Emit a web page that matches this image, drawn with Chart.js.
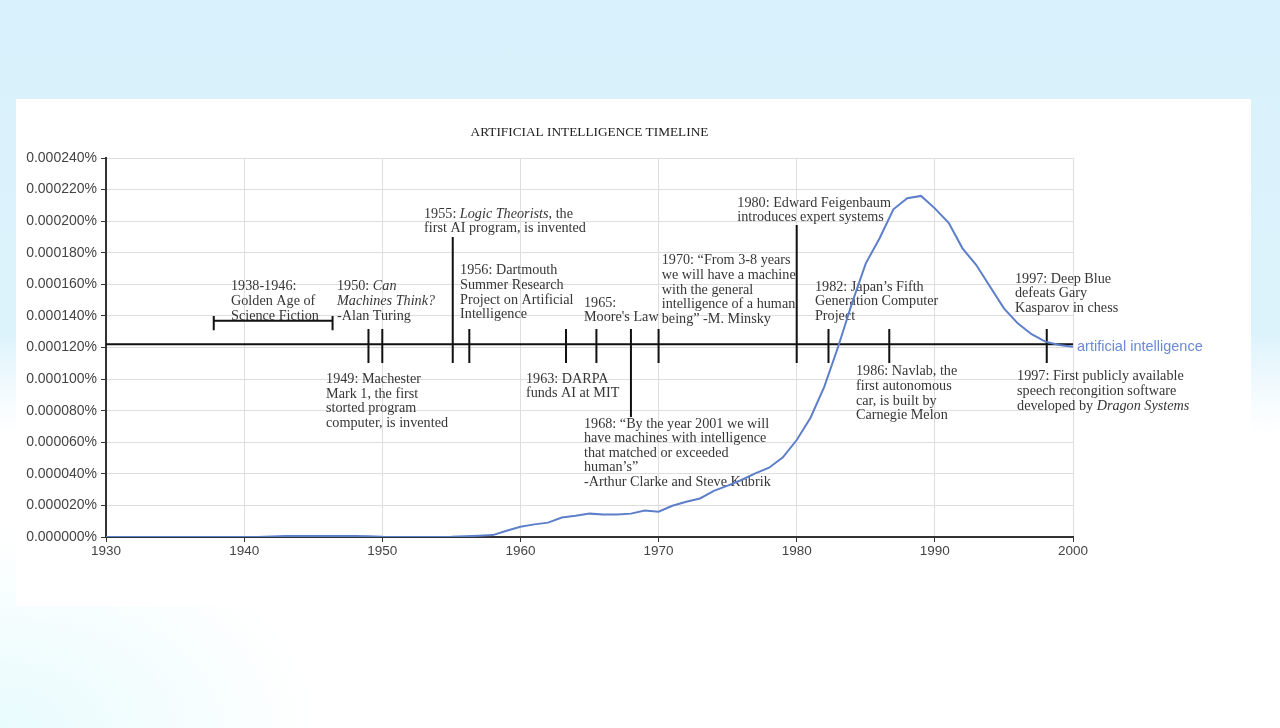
<!DOCTYPE html>
<html>
<head>
<meta charset="utf-8">
<script src="https://cdn.jsdelivr.net/npm/chart.js@4/dist/chart.umd.min.js"></script>
<style>
  html, body { margin: 0; padding: 0; }
  body {
    width: 1280px; height: 728px; overflow: hidden; position: relative;
    background:
      radial-gradient(ellipse 320px 200px at 0% 100%, #e8fbfd 0%, rgba(255,255,255,0) 100%),
      linear-gradient(to bottom, #d9f1fc 0%, #ddf3fc 46%, #f4fbfe 54%, #ffffff 60%, #ffffff 100%);
  }
  #card { position: absolute; left: 16px; top: 99px; width: 1235px; height: 507px; background: #fff; }
</style>
</head>
<body>
<div id="card"><canvas id="chart" width="1235" height="507"></canvas></div>
<script>
// ngram series: "artificial intelligence" (percent)
const years = [
  1930, 1931, 1932, 1933, 1934, 1935, 1936, 1937, 1938, 1939,
  1940, 1941, 1942, 1943, 1944, 1945, 1946, 1947, 1948, 1949,
  1950, 1951, 1952, 1953, 1954, 1955, 1956, 1957, 1958, 1959,
  1960, 1961, 1962, 1963, 1964, 1965, 1966, 1967, 1968, 1969,
  1970, 1971, 1972, 1973, 1974, 1975, 1976, 1977, 1978, 1979,
  1980, 1981, 1982, 1983, 1984, 1985, 1986, 1987, 1988, 1989,
  1990, 1991, 1992, 1993, 1994, 1995, 1996, 1997, 1998, 1999,
  2000,
];
const aiValues = [
  0, 0, 0, 0, 0, 0, 0, 0, 0, 0,
  0, 0, 0.0000003, 0.0000006, 0.0000007, 0.0000007, 0.0000007, 0.0000006, 0.0000006, 0.0000005,
  0.0000001, 0, 0, 0, 0, 0.0000001, 0.0000004, 0.0000008, 0.0000012, 0.000004,
  0.0000065, 0.000008, 0.0000091, 0.0000123, 0.0000134, 0.0000148, 0.0000142, 0.0000142, 0.0000148, 0.0000167,
  0.000016, 0.0000198, 0.0000223, 0.0000244, 0.0000292, 0.0000325, 0.0000361, 0.0000403, 0.0000439, 0.0000505,
  0.0000614, 0.0000755, 0.0000952, 0.0001205, 0.000148, 0.0001733, 0.0001892, 0.0002075, 0.0002145, 0.000216,
  0.0002081, 0.000199, 0.0001828, 0.0001722, 0.0001585, 0.0001448, 0.0001353, 0.0001284, 0.0001237, 0.0001216,
  0.0001205,
];
const seriesName = "artificial intelligence";
const chartTitle = "ARTIFICIAL INTELLIGENCE TIMELINE";

// timeline overlay
const timelineLevel = 0.000122;
const markerYears = [1949, 1950, 1955.1, 1956.3, 1963.3, 1965.5, 1968, 1970, 1980, 1982.3, 1986.7, 1998.1];
const markerTops = [0.0001317, 0.0001317, 0.00019, 0.0001317, 0.0001317, 0.0001317, 0.0001317, 0.0001317, 0.0001976, 0.0001317, 0.0001317, 0.0001317];
const markerBottoms = [0.0001102, 0.0001102, 0.0001102, 0.0001102, 0.0001102, 0.0001102, 0.000076, 0.0001102, 0.0001102, 0.0001102, 0.0001102, 0.0001102];
const bracketYears = [1937.8, 1946.4];

// text notes, anchored at [year, value] of the first line; *...* is italic
const notes = [
  { at: [1939.05, 0.0001585], lines: ["1938-1946:", "Golden Age of", "Science Fiction"] },
  { at: [1946.72, 0.0001585], lines: ["1950: *Can*", "*Machines Think?*", "-Alan Turing"] },
  { at: [1953.02, 0.0002045], lines: ["1955: *Logic Theorists*, the", "first AI program, is invented"] },
  { at: [1955.63, 0.0001686], lines: ["1956: Dartmouth", "Summer Research", "Project on Artificial", "Intelligence"] },
  { at: [1964.6, 0.0001482], lines: ["1965:", "Moore's Law"] },
  { at: [1970.23, 0.000175], lines: ["1970: “From 3-8 years", "we will have a machine", "with the general", "intelligence of a human", "being” -M. Minsky"] },
  { at: [1975.7, 0.0002115], lines: ["1980: Edward Feigenbaum", "introduces expert systems"] },
  { at: [1981.32, 0.0001583], lines: ["1982: Japan’s Fifth", "Generation Computer", "Project"] },
  { at: [1995.8, 0.0001634], lines: ["1997: Deep Blue", "defeats Gary", "Kasparov in chess"] },
  { at: [1945.93, 0.0000997], lines: ["1949: Machester", "Mark 1, the first", "storted program", "computer, is invented"] },
  { at: [1960.4, 0.0001], lines: ["1963: DARPA", "funds AI at MIT"] },
  { at: [1964.6, 0.0000716], lines: ["1968: “By the year 2001 we will", "have machines with intelligence", "that matched or exceeded", "human’s”", "-Arthur Clarke and Steve Kubrik"] },
  { at: [1984.29, 0.0001047], lines: ["1986: Navlab, the", "first autonomous", "car, is built by", "Carnegie Melon"] },
  { at: [1995.95, 0.0001015], lines: ["1997: First publicly available", "speech recongition software", "developed by *Dragon Systems*"] },
];

const serif = '"Liberation Serif", "Times New Roman", serif';
const sans = '"Liberation Sans", Arial, sans-serif';

function drawRich(ctx, text, x, y) {
  let cx = x;
  text.split("*").forEach((part, i) => {
    ctx.font = (i % 2 ? "italic " : "") + "14.2px " + serif;
    ctx.fillText(part, cx, y);
    cx += ctx.measureText(part).width;
  });
}

const timelinePlugin = {
  id: "timeline",
  beforeDatasetsDraw(chart) {
    const { ctx, scales: { x, y } } = chart;
    ctx.save();
    ctx.strokeStyle = "#111";
    ctx.lineWidth = 2;
    ctx.beginPath();
    const ly = y.getPixelForValue(timelineLevel);
    ctx.moveTo(x.getPixelForValue(1930), ly);
    ctx.lineTo(x.getPixelForValue(2000), ly);
    markerYears.forEach((yr, i) => {
      const px = x.getPixelForValue(yr);
      ctx.moveTo(px, y.getPixelForValue(markerTops[i]));
      ctx.lineTo(px, y.getPixelForValue(markerBottoms[i]));
    });
    // bracket for 1938-1946
    const by = y.getPixelForValue(0.000137);
    const bx0 = x.getPixelForValue(bracketYears[0]);
    const bx1 = x.getPixelForValue(bracketYears[1]);
    ctx.moveTo(bx0, by);
    ctx.lineTo(bx1, by);
    [bx0, bx1].forEach((bx) => {
      ctx.moveTo(bx, y.getPixelForValue(0.00014));
      ctx.lineTo(bx, y.getPixelForValue(0.000131));
    });
    ctx.stroke();

    ctx.fillStyle = "#363636";
    ctx.textBaseline = "middle";
    ctx.textAlign = "left";
    notes.forEach((n) => {
      const nx = x.getPixelForValue(n.at[0]);
      const ny = y.getPixelForValue(n.at[1]);
      n.lines.forEach((line, i) => drawRich(ctx, line, nx, ny + i * 14.6));
    });
    ctx.restore();
  },
  afterDatasetsDraw(chart) {
    const { ctx, chartArea, scales: { x, y } } = chart;
    ctx.save();
    ctx.textBaseline = "middle";
    ctx.textAlign = "left";
    ctx.fillStyle = "#6a8ad6";
    ctx.font = "14.5px " + sans;
    ctx.fillText(seriesName, chartArea.right + 4, y.getPixelForValue(aiValues[aiValues.length - 1]));

    ctx.fillStyle = "#222";
    ctx.textAlign = "center";
    ctx.font = "13.3px " + serif;
    ctx.fillText(chartTitle, (chartArea.left + chartArea.right) / 2, chartArea.top - 25);
    ctx.restore();
  },
};

const ctx = document.getElementById("chart").getContext("2d");

new Chart(ctx, {
  type: "line",
  data: {
    datasets: [
      {
        label: seriesName,
        data: years.map((yr, i) => ({ x: yr, y: aiValues[i] })),
        borderColor: "#5d7fca",
        borderWidth: 2,
        pointRadius: 0,
        tension: 0,
        fill: false,
      },
    ],
  },
  options: {
    responsive: false,
    animation: false,
    layout: { padding: { top: 59, right: 178, bottom: 39, left: 0 } },
    plugins: {
      legend: { display: false },
      tooltip: { enabled: false },
    },
    scales: {
      x: {
        type: "linear",
        min: 1930,
        max: 2000,
        ticks: {
          stepSize: 10,
          callback: (v) => String(v),
          color: "#444",
          font: { family: sans, size: 13.5 },
          padding: 1,
          maxRotation: 0,
        },
        grid: { color: "#dedede", tickColor: "#333", tickLength: 5 },
        border: { color: "#333", width: 2 },
        afterFit: (s) => { s.height = 30; },
      },
      y: {
        min: 0,
        max: 0.00024,
        ticks: {
          stepSize: 0.00002,
          callback: (v) => v.toFixed(6) + "%",
          color: "#444",
          font: { family: sans, size: 14 },
          padding: 4,
        },
        grid: { color: "#dedede", tickColor: "#333", tickLength: 5 },
        border: { color: "#333", width: 2 },
        afterFit: (s) => { s.width = 90; },
      },
    },
  },
  plugins: [timelinePlugin],
});
</script>
</body>
</html>
